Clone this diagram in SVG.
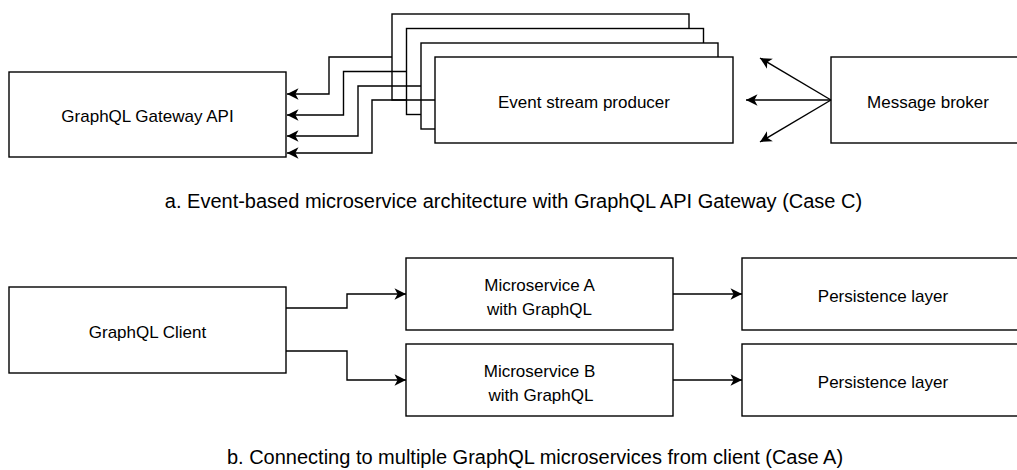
<svg xmlns="http://www.w3.org/2000/svg" width="1017" height="470" viewBox="0 0 1017 470">
  <style>
    .box { fill: #ffffff; stroke: #000000; stroke-width: 1.4; }
    .lbl { font-family: "Liberation Sans", Arial, Helvetica, sans-serif; font-size: 17px; fill: #000000; text-anchor: middle; }
    .cap { font-family: "Liberation Sans", Arial, Helvetica, sans-serif; font-size: 20px; fill: #000000; text-anchor: middle; }
    .edge { fill: none; stroke: #000000; stroke-width: 1.4; }
  </style>
  <defs>
    <marker id="arrow" markerUnits="userSpaceOnUse" markerWidth="14" markerHeight="14" viewBox="-12 -7 14 14" refX="0" refY="0" orient="auto">
      <path d="M0,0 L-11.5,-5.8 L-8.4,0 L-11.5,5.8 Z" fill="#000000" stroke="none"/>
    </marker>
  </defs>

  <!-- Case C: event-based architecture -->
  <g id="gateway">
    <rect class="box" x="9" y="72" width="277" height="85"/>
    <text class="lbl" x="147.5" y="122">GraphQL Gateway API</text>
  </g>
  <g id="producer-4">
    <rect class="box" x="392" y="14" width="297" height="86"/>
  </g>
  <g id="producer-3">
    <rect class="box" x="406.5" y="28.5" width="297" height="86"/>
  </g>
  <g id="producer-2">
    <rect class="box" x="421" y="43" width="297" height="86"/>
  </g>
  <g id="producer-1">
    <rect class="box" x="435" y="57" width="298" height="86"/>
    <text class="lbl" x="584" y="107.5">Event stream producer</text>
  </g>
  <g id="broker">
    <rect class="box" x="831" y="57" width="194" height="86"/>
    <text class="lbl" x="928" y="107.5">Message broker</text>
  </g>
  <text class="cap" x="513.5" y="208">a. Event-based microservice architecture with GraphQL API Gateway (Case C)</text>

  <!-- Case A: client talking to several GraphQL services -->
  <g id="client">
    <rect class="box" x="9" y="287" width="277" height="86"/>
    <text class="lbl" x="147.5" y="337.5">GraphQL Client</text>
  </g>
  <g id="service-a">
    <rect class="box" x="406" y="258" width="267" height="72"/>
    <text class="lbl" x="539.5" y="291">Microservice A</text>
    <text class="lbl" x="539.5" y="315">with GraphQL</text>
  </g>
  <g id="service-b">
    <rect class="box" x="406" y="344" width="267" height="72"/>
    <text class="lbl" x="539.5" y="377">Microservice B</text>
    <text class="lbl" x="541" y="401">with GraphQL</text>
  </g>
  <g id="persistence-a">
    <rect class="box" x="742" y="258" width="282" height="72"/>
    <text class="lbl" x="883" y="301.5">Persistence layer</text>
  </g>
  <g id="persistence-b">
    <rect class="box" x="742" y="344" width="282" height="72"/>
    <text class="lbl" x="883" y="387.5">Persistence layer</text>
  </g>
  <text class="cap" x="535" y="464">b. Connecting to multiple GraphQL microservices from client (Case A)</text>

  <g id="connectors">
    <!-- producers to gateway -->
    <path class="edge" d="M392,57 H329 V94 H287" marker-end="url(#arrow)"/>
    <path class="edge" d="M406.5,71.5 H343.5 V115 H287" marker-end="url(#arrow)"/>
    <path class="edge" d="M421,86 H358 V136 H287" marker-end="url(#arrow)"/>
    <path class="edge" d="M435,100 H372 V153 H287" marker-end="url(#arrow)"/>
    <!-- broker fan-out -->
    <path class="edge" d="M831,100 L760,58" marker-end="url(#arrow)"/>
    <path class="edge" d="M831,100 L746,100" marker-end="url(#arrow)"/>
    <path class="edge" d="M831,100 L760,142" marker-end="url(#arrow)"/>
    <!-- client to services -->
    <path class="edge" d="M286,308 H347 V294 H406" marker-end="url(#arrow)"/>
    <path class="edge" d="M286,351 H347 V380 H406" marker-end="url(#arrow)"/>
    <!-- services to persistence -->
    <path class="edge" d="M673,294 H742" marker-end="url(#arrow)"/>
    <path class="edge" d="M673,380 H742" marker-end="url(#arrow)"/>
  </g>
</svg>
